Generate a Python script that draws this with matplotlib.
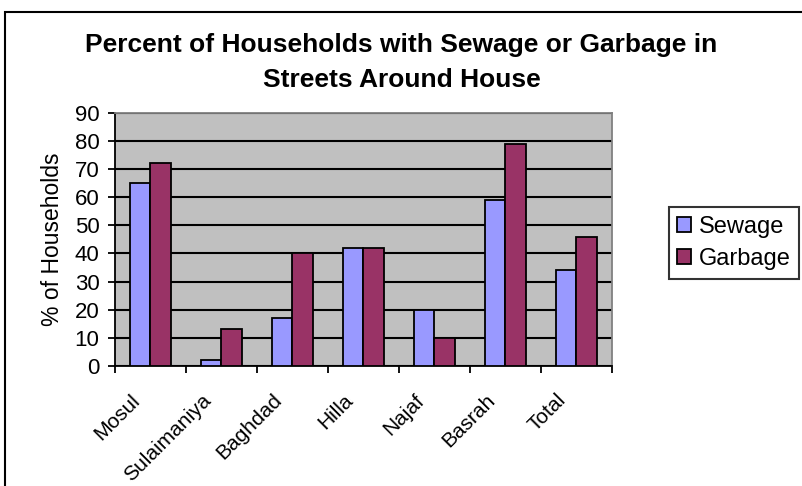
import matplotlib
matplotlib.use("Agg")
import matplotlib.pyplot as plt
import matplotlib.transforms as mtransforms
import numpy as np
from matplotlib.patches import Rectangle

categories = ["Mosul", "Sulaimaniya", "Baghdad", "Hilla", "Najaf", "Basrah", "Total"]
sewage = [65, 2, 17, 42, 20, 59, 34]
garbage = [72, 13, 40, 42, 10, 79, 46]
yticks = list(range(0, 100, 10))

plt.rcParams['font.family'] = ['Liberation Sans', 'DejaVu Sans']

fig = plt.figure(figsize=(8.03, 4.86), dpi=100)
ax = fig.add_axes([0.143, 0.247, 0.619, 0.521])

# outer chart border
fig.patches.append(Rectangle((5/803, -0.1), 1.1, 1 - 12/486 + 0.1, transform=fig.transFigure,
                             fill=False, edgecolor='black', linewidth=1.5, zorder=0))

x = np.arange(len(categories))
w = 0.285
ax.set_facecolor('#c0c0c0')
ax.bar(x - w/2, sewage, w, color='#9999ff', edgecolor='black', linewidth=1.3, label='Sewage', zorder=3)
ax.bar(x + w/2, garbage, w, color='#993366', edgecolor='black', linewidth=1.3, label='Garbage', zorder=3)

ax.set_xlim(-0.5, len(categories) - 0.5)
ax.set_ylim(0, 90)
ax.set_yticks(yticks)
ax.set_yticklabels([str(v) for v in yticks], fontsize=16)
ax.yaxis.grid(True, color='black', linewidth=1.5, zorder=1)
ax.set_axisbelow(True)

ax.set_xticks(np.arange(-0.5, len(categories), 1.0))
ax.set_xticklabels([])
ax.set_xticks(x, minor=True)
ax.set_xticklabels(categories, minor=True, rotation=45, ha='right', rotation_mode='anchor', fontsize=15)
ax.tick_params(axis='x', which='minor', length=0, pad=12)
ax.tick_params(axis='x', which='major', length=5, width=1.3, direction='out')
ax.tick_params(axis='y', length=5, width=1.3, direction='out', pad=6)

offset = mtransforms.ScaledTranslation(-20/100, -8/100, fig.dpi_scale_trans)
for lab in ax.get_xticklabels(minor=True):
    lab.set_transform(lab.get_transform() + offset)

for s in ['top', 'right']:
    ax.spines[s].set_color('#808080')
    ax.spines[s].set_linewidth(1.3)
for s in ['left', 'bottom']:
    ax.spines[s].set_color('black')
    ax.spines[s].set_linewidth(1.3)

ax.set_ylabel('% of Households', fontsize=16.5, labelpad=8)

fig.text(0.5, 1 - 45/486, 'Percent of Households with Sewage or Garbage in', ha='center', va='center',
         fontsize=19, fontweight='bold')
fig.text(0.5, 1 - 80/486, 'Streets Around House', ha='center', va='center',
         fontsize=19, fontweight='bold')

leg = fig.legend(loc='center left', bbox_to_anchor=(669/803, 1 - 243/486), fontsize=17,
                 frameon=True, fancybox=False, edgecolor='black', handlelength=0.6, handleheight=0.6,
                 handletextpad=0.3, borderpad=0.35, labelspacing=0.45, borderaxespad=0)
leg.get_frame().set_linewidth(1.5)

fig.savefig('out.png', dpi=100)
